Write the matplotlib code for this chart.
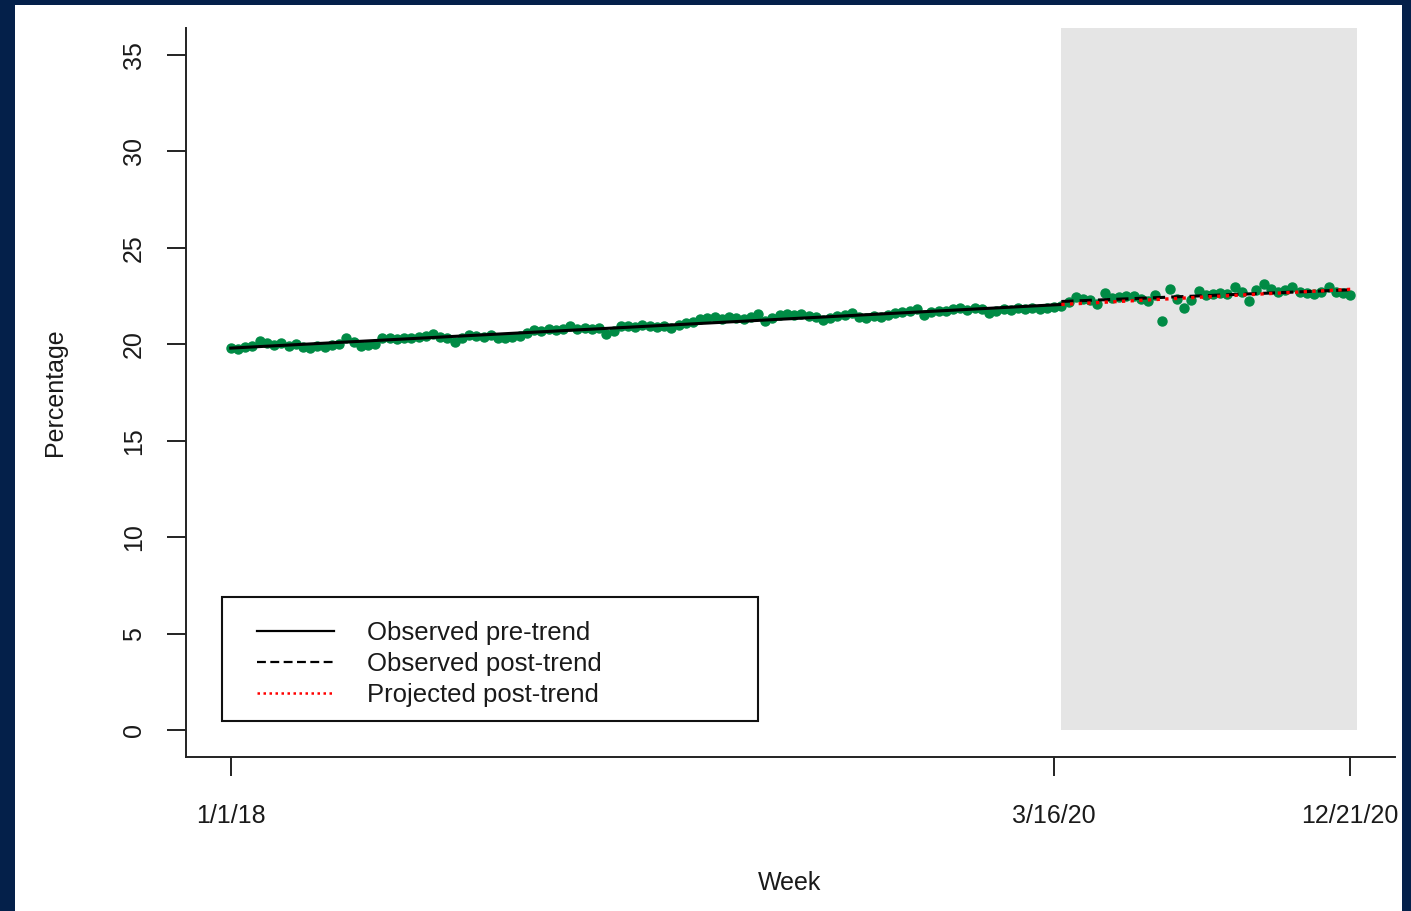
import numpy as np
import matplotlib.pyplot as plt
from matplotlib.patches import Rectangle
from matplotlib.lines import Line2D

plt.rcParams['font.family'] = ['Liberation Sans', 'DejaVu Sans']

# weekly share (%), week index 0 = 1/1/18
pre_pct = [19.8, 19.75, 19.85, 19.9, 20.15, 20.05, 19.95, 20.05, 19.9, 20.0,
           19.85, 19.8, 19.9, 19.85, 19.95, 20.0, 20.3, 20.1, 19.9, 19.95,
           20.0, 20.3, 20.35, 20.25, 20.3, 20.35, 20.4, 20.45, 20.55, 20.4,
           20.3, 20.1, 20.3, 20.5, 20.45, 20.4, 20.5, 20.35, 20.3, 20.4,
           20.45, 20.6, 20.75, 20.7, 20.8, 20.75, 20.8, 20.95, 20.8, 20.85,
           20.8, 20.85, 20.55, 20.7, 20.95, 20.95, 20.9, 21.0, 20.95, 20.9,
           20.95, 20.85, 21.0, 21.1, 21.15, 21.3, 21.35, 21.4, 21.3, 21.4,
           21.35, 21.3, 21.4, 21.55, 21.2, 21.35, 21.5, 21.55, 21.5, 21.55,
           21.45, 21.4, 21.25, 21.35, 21.45, 21.5, 21.6, 21.4, 21.35, 21.45,
           21.4, 21.5, 21.6, 21.65, 21.7, 21.85, 21.5, 21.65, 21.7, 21.75,
           21.85, 21.9, 21.8, 21.9, 21.85, 21.6, 21.75, 21.85, 21.8, 21.9,
           21.85, 21.9, 21.85, 21.9, 21.95]
post_pct = [22.0, 22.2, 22.45, 22.35, 22.3, 22.1, 22.65, 22.4, 22.45, 22.5,
            22.5, 22.35, 22.25, 22.55, 21.2, 22.85, 22.35, 21.9, 22.3, 22.75,
            22.55, 22.6, 22.65, 22.6, 22.95, 22.7, 22.25, 22.8, 23.1, 22.85,
            22.7, 22.8, 22.95, 22.7, 22.65, 22.6, 22.7, 22.95, 22.7, 22.65,
            22.55]

tick_weeks = [0, 114, 155]
tick_labels = ["1/1/18", "3/16/20", "12/21/20"]
covid_start, covid_end = 115, 156
legend_labels = ["Observed pre-trend", "Observed post-trend", "Projected post-trend"]

weeks_pre = np.arange(len(pre_pct))
weeks_post = np.arange(len(pre_pct), len(pre_pct) + len(post_pct))

# linear trends
b_pre = np.polyfit(weeks_pre, pre_pct, 1)
b_post = np.polyfit(weeks_post, post_pct, 1)

W, H = 1411, 911
fig = plt.figure(figsize=(W / 100, H / 100), dpi=100)
fig.patch.set_facecolor('#04204a')
bg = fig.add_axes([15 / W, 0, 1387 / W, 906 / H], zorder=-5)
bg.set_facecolor('white')
bg.set_xticks([])
bg.set_yticks([])
for s in bg.spines.values():
    s.set_visible(False)

ax_l, ax_b, ax_w, ax_h = 186, 154, 1209, 729
ax = fig.add_axes([ax_l / W, ax_b / H, ax_w / W, ax_h / H])
ax.set_facecolor('none')
ax.set_xlim(-6.2, 161.2)
ax.set_ylim(-1.4, 36.4)

ax.add_patch(Rectangle((covid_start, 0), covid_end - covid_start, 36.4,
                       facecolor='#e5e5e5', edgecolor='none', zorder=1))

ax.plot(weeks_pre, pre_pct, 'o', color='#008B45', ms=6.5, zorder=2)
ax.plot(weeks_post, post_pct, 'o', color='#008B45', ms=6.5, zorder=2)

xp = np.array([weeks_pre[0], covid_start])
ax.plot(xp, np.polyval(b_pre, xp), color='black', lw=2.2, zorder=3)
xq = np.array([covid_start, weeks_post[-1]])
ax.plot(xq, np.polyval(b_post, xq), color='black', lw=2.2, ls=(0, (4, 2)), zorder=3)
ax.plot(xq, np.polyval(b_pre, xq), color='red', lw=2.4, ls=(0, (1, 1.6)), zorder=4)

for s in ['top', 'right']:
    ax.spines[s].set_visible(False)
for s in ['left', 'bottom']:
    ax.spines[s].set_linewidth(1.4)
    ax.spines[s].set_color('#222222')

ax.set_yticks(range(0, 36, 5))
ax.set_xticks(tick_weeks)
ax.set_xticklabels(tick_labels)
ax.tick_params(axis='both', length=14, width=1.4, color='#222222',
               labelsize=18, labelcolor='#1a1a1a')
ax.tick_params(axis='x', pad=20)
ax.tick_params(axis='y', pad=15)
for lab in ax.get_yticklabels():
    lab.set_rotation(90)
    lab.set_va('center')

fig.text(55 / W, 1 - 392 / H, "Percentage", rotation=90, fontsize=18,
         color='#1a1a1a', ha='center', va='center')
fig.text(790 / W, 1 - 883 / H, "Week", fontsize=18, color='#1a1a1a',
         ha='center', va='center')


def to_ax(px, py):
    return (px - ax_l) / ax_w, (H - ax_b - py) / ax_h


# legend box drawn by hand, entries placed inside it
x0, y0 = to_ax(222, 721)
x1, y1 = to_ax(758, 597)
ax.add_patch(Rectangle((x0, y0), x1 - x0, y1 - y0, transform=ax.transAxes,
                       facecolor='white', edgecolor='#111111', lw=1.5, zorder=5))

handles = [Line2D([], [], color='black', lw=1.6),
           Line2D([], [], color='black', lw=1.6, ls=(0, (4, 2))),
           Line2D([], [], color='red', lw=1.8, ls=(0, (1, 1.4)))]
leg = ax.legend(handles, legend_labels, loc='upper left',
                bbox_to_anchor=to_ax(257, 621), fontsize=18.5, frameon=False,
                handlelength=3, handletextpad=1.3, borderpad=0,
                labelspacing=0.28, borderaxespad=0)
leg.set_zorder(6)
for t in leg.get_texts():
    t.set_color('#1a1a1a')

fig.savefig('out.png', dpi=100, facecolor=fig.get_facecolor())
